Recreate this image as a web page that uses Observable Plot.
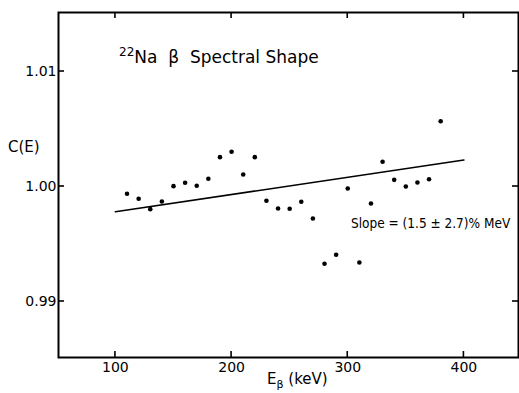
<!DOCTYPE html>
<html><head><meta charset="utf-8">
<script src="https://cdn.jsdelivr.net/npm/d3@7"></script>
<script src="https://cdn.jsdelivr.net/npm/@observablehq/plot@0.6"></script>
<style>body{margin:0;background:#fff} svg{display:block}</style>
</head><body><div id="chart"></div>
<script>
const energies = [110,120,130,140,150,160,170,180,190,200,210,220,230,240,250,260,270,280,290,300,310,320,330,340,350,360,370,380];
const cValues = [0.99937,0.99893,0.99803,0.99870,1.00003,1.00032,1.00006,1.00067,1.00255,1.00302,1.00104,1.00255,0.99876,0.99809,0.99806,0.99867,0.99722,0.99328,0.99406,0.99983,0.99339,0.99852,1.00215,1.00058,1.00000,1.00035,1.00063,1.00568];
const fitE = [100, 400];
const fitC = [0.9978, 1.0023];
const xTicks = [100, 200, 300, 400];
const yTicks = [0.99, 1.00, 1.01];
const yTickLabels = ["0.99", "1.00", "1.01"];
const xDomain = [51, 447];
const yDomain = [0.98513, 1.01513];
const titleIso = "22", titleRest = "Na  \u03B2  Spectral Shape";
const slopeText = "Slope = (1.5 \u00B1 2.7)% MeV";
const yLabel = "C(E)";
const xLabelMain = "E", xLabelSub = "\u03B2", xLabelUnit = " (keV)";

const points = energies.map((e, i) => ({e, c: cValues[i]}));
const fit = fitE.map((e, i) => ({e, c: fitC[i]}));
const font = "DejaVu Sans, sans-serif";
const fontNarrow = "DejaVu Sans Condensed, Liberation Sans Narrow, sans-serif";

const W = 519, H = 393, mL = 58, mR = 1, mT = 12, mB = 36, tickLen = 6;

const chartSvg = Plot.plot({
  width: W, height: H,
  marginLeft: mL, marginRight: mR, marginTop: mT, marginBottom: mB,
  style: {fontFamily: font, fontSize: "14px", color: "#000", background: "#fff"},
  x: {domain: xDomain},
  y: {domain: yDomain},
  marks: [
    Plot.frame({stroke: "#000", strokeWidth: 2}),
    Plot.axisX(xTicks, {anchor: "bottom", tickSize: 0, tickPadding: 5, label: null, tickFormat: d => String(d), fontSize: 14}),
    Plot.axisY(yTicks, {anchor: "left", tickSize: 0, tickPadding: 2, label: null, tickFormat: d => yTickLabels[yTicks.indexOf(d)], fontSize: 14}),
    Plot.line(fit, {x: "e", y: "c", stroke: "#000", strokeWidth: 1.6}),
    Plot.dot(points, {x: "e", y: "c", r: 2.3, fill: "#000", stroke: "none"})
  ]
});
document.getElementById("chart").appendChild(chartSvg);

const s = d3.select(chartSvg);
try {
  const sx = v => chartSvg.scale("x").apply(v), sy = v => chartSvg.scale("y").apply(v);
  const yTopPx = sy(yDomain[1]), yBotPx = sy(yDomain[0]), xLeftPx = sx(xDomain[0]), xRightPx = sx(xDomain[1]);
  const g = s.append("g").attr("stroke", "#000").attr("stroke-width", 1.6);
  xTicks.forEach(v => {
    g.append("line").attr("x1", sx(v)).attr("x2", sx(v)).attr("y1", yTopPx).attr("y2", yTopPx + tickLen);
    g.append("line").attr("x1", sx(v)).attr("x2", sx(v)).attr("y1", yBotPx).attr("y2", yBotPx - tickLen);
  });
  yTicks.forEach(v => {
    g.append("line").attr("y1", sy(v)).attr("y2", sy(v)).attr("x1", xLeftPx).attr("x2", xLeftPx + tickLen);
    g.append("line").attr("y1", sy(v)).attr("y2", sy(v)).attr("x1", xRightPx).attr("x2", xRightPx - tickLen);
  });
} catch (e) { console.error(e); }

const addText = (x, y, size, fam = font) => s.append("text").attr("x", x).attr("y", y).attr("text-anchor", "start")
  .attr("font-family", fam).attr("font-size", size).attr("fill", "#000");
const t = addText(119, 63, 17);
t.append("tspan").attr("font-size", 12).attr("dy", -7).text(titleIso);
t.append("tspan").attr("dy", 7).text(titleRest);
addText(8, 152, 15).text(yLabel);
addText(351, 228, 13.5, fontNarrow).text(slopeText);
const xl = addText(267, 384, 15);
xl.append("tspan").text(xLabelMain);
xl.append("tspan").attr("font-size", 11).attr("dy", 4).text(xLabelSub);
xl.append("tspan").attr("dy", -4).text(xLabelUnit);
</script></body></html>
